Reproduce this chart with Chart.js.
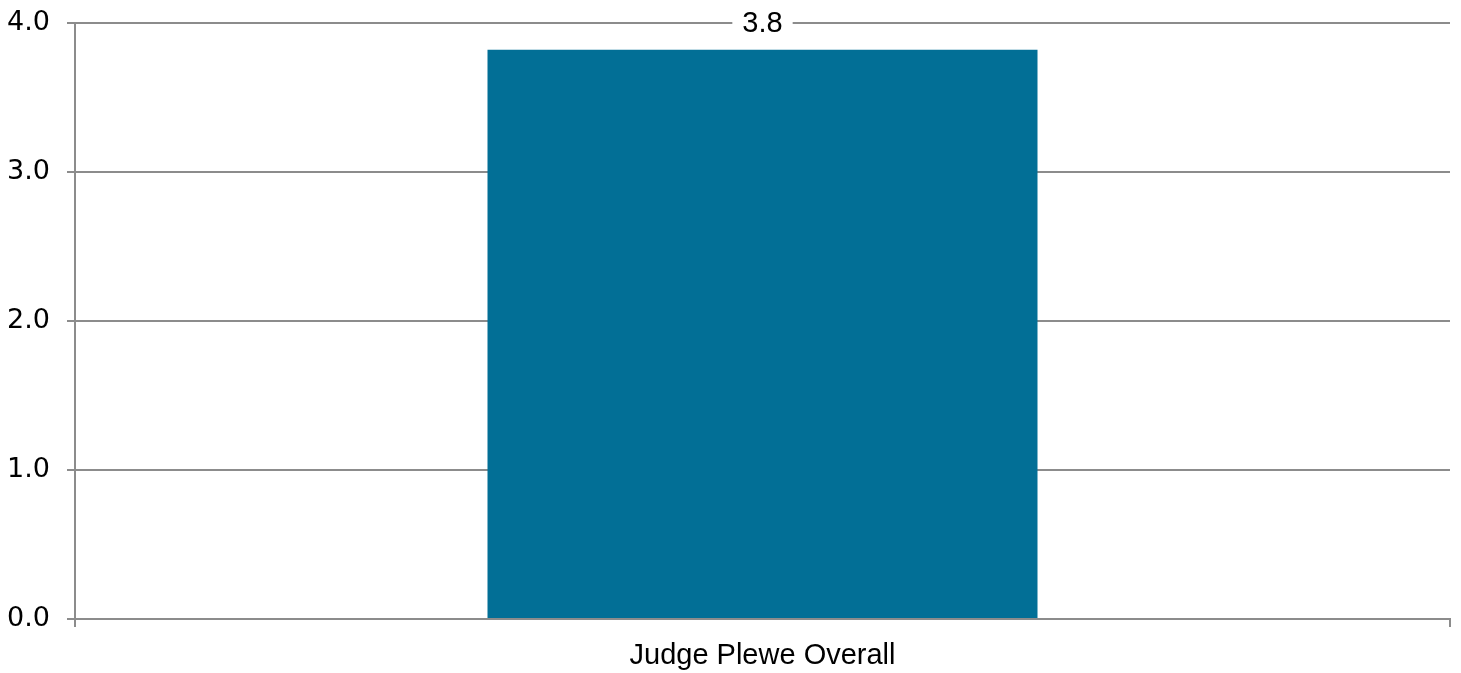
<!DOCTYPE html>
<html>
<head>
<meta charset="utf-8">
<script src="https://cdn.jsdelivr.net/npm/chart.js@4/dist/chart.umd.min.js"></script>
<style>
  html, body { margin: 0; padding: 0; background: #fff; }
  #wrap { width: 1461px; height: 673px; }
</style>
</head>
<body>
<div id="wrap"><canvas id="myChart"></canvas></div>
<script>
// data
const categories = ['Judge Plewe Overall'];
const scores = [3.82];
const yTicks = [0, 1, 2, 3, 4];

const gridGray = '#8c8c8c';

// label above the bar, white box over the gridline
const valueLabels = {
  id: 'valueLabels',
  afterDatasetsDraw(chart) {
    const ctx = chart.ctx;
    const meta = chart.getDatasetMeta(0);
    ctx.save();
    ctx.font = '29px "Liberation Sans", Arial, sans-serif';
    ctx.textAlign = 'center';
    ctx.textBaseline = 'middle';
    meta.data.forEach((bar, i) => {
      const txt = scores[i].toFixed(1);
      const w = ctx.measureText(txt).width;
      const y = chart.scales.y.getPixelForValue(4);
      ctx.fillStyle = '#fff';
      ctx.fillRect(bar.x - w / 2 - 10, y - 14, w + 20, 28);
      ctx.fillStyle = '#000';
      ctx.fillText(txt, bar.x, y + 1);
    });
    ctx.restore();
  }
};

const config = {
  type: 'bar',
  data: {
    labels: categories,
    datasets: [{
      data: scores,
      backgroundColor: '#026f96',
      borderWidth: 0,
      categoryPercentage: 0.4,
      barPercentage: 1
    }]
  },
  options: {
    responsive: true,
    maintainAspectRatio: false,
    animation: false,
    layout: { padding: { top: 23, right: 11, left: 0, bottom: 0 } },
    plugins: {
      legend: { display: false },
      tooltip: { enabled: false }
    },
    scales: {
      x: {
        afterFit(axis) { axis.height = 54; axis.paddingLeft = 0; axis.paddingRight = 0; },
        grid: { drawOnChartArea: false, drawTicks: true, tickLength: 8, color: gridGray, lineWidth: 2 },
        border: { color: gridGray, width: 2 },
        ticks: {
          color: '#000',
          padding: 12,
          font: { family: '"Liberation Sans", Arial, sans-serif', size: 29 }
        }
      },
      y: {
        min: 0,
        max: 4,
        afterBuildTicks(axis) { axis.ticks = yTicks.map(v => ({ value: v })); },
        afterFit(axis) { axis.width = 75; axis.paddingTop = 0; axis.paddingBottom = 0; },
        grid: { color: gridGray, lineWidth: 2, tickLength: 8 },
        border: { color: gridGray, width: 2 },
        ticks: {
          color: '#000',
          padding: 17,
          font: { family: '"DejaVu Sans", Verdana, sans-serif', size: 27 },
          callback: v => Number(v).toFixed(1)
        }
      }
    }
  },
  plugins: [valueLabels]
};

new Chart(document.getElementById('myChart'), config);
</script>
</body>
</html>
